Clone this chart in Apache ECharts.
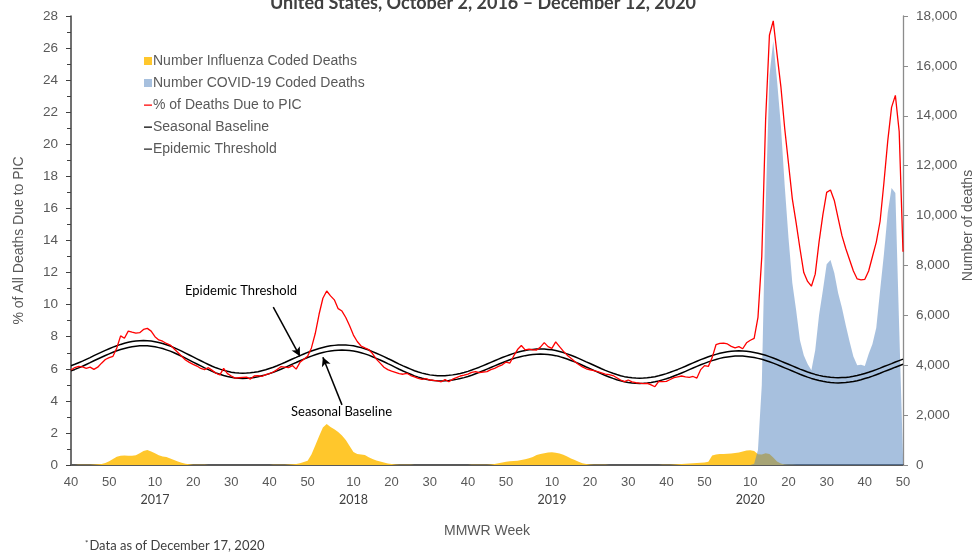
<!DOCTYPE html>
<html>
<head>
<meta charset="utf-8">
<script src="https://cdn.jsdelivr.net/npm/echarts@6.0.0/dist/echarts.min.js"></script>
<style>
  html, body { margin: 0; padding: 0; background: #fff; }
  #chart { width: 977px; height: 558px; }
</style>
</head>
<body>
<div id="chart"></div>
<script>
// MMWR weeks shown: 2016 wk40 .. 2020 wk50
const seasons = [[2016, 40, 52], [2017, 1, 52], [2018, 1, 52], [2019, 1, 52], [2020, 1, 50]]
const weeks = []
seasons.forEach(([yr, from, to]) => {
  for (let w = from; w <= to; w++) weeks.push(yr + '-' + w)
})

// % of all deaths due to pneumonia, influenza or COVID-19
const picPercent = [
  5.92, 6.08, 6.15, 6.12, 6.03, 6.10, 5.96, 6.10, 6.35, 6.58, 6.70, 6.78, 7.30, 8.05, 7.90, 8.35, 8.28, 8.22, 8.25, 8.45,
  8.52, 8.35, 8.00, 7.80, 7.72, 7.58, 7.48, 7.25, 7.02, 6.78, 6.55, 6.40, 6.28, 6.17, 6.02, 5.95, 6.07, 5.90, 5.72, 5.62, 6.03, 5.70, 5.55, 5.42, 5.44, 5.46,
  5.48, 5.36, 5.55, 5.58, 5.52, 5.64, 5.70, 5.80, 5.95, 6.13, 6.10, 6.07, 6.20, 5.98, 6.40, 6.60, 6.78, 7.30, 8.20, 9.40, 10.40, 10.85, 10.55, 10.30, 9.75, 9.60,
  9.20, 8.68, 8.10, 7.70, 7.42, 7.30, 7.20, 6.95, 6.60, 6.35, 6.10, 5.95, 5.85, 5.78, 5.70, 5.66, 5.72, 5.58, 5.50, 5.40, 5.34, 5.38, 5.30, 5.28, 5.24, 5.19,
  5.32, 5.19, 5.35, 5.45, 5.55, 5.60, 5.67, 5.78, 5.82, 5.76, 5.80, 5.82, 5.95, 6.03, 6.15, 6.25, 6.42, 6.36, 6.80, 7.20, 7.45, 7.18, 7.22, 7.18, 7.17, 7.35,
  7.63, 7.38, 7.27, 7.68, 7.38, 7.10, 6.85, 6.65, 6.46, 6.27, 6.12, 6.00, 5.94, 5.88, 5.82, 5.75, 5.67, 5.63, 5.58, 5.44, 5.30, 5.20, 5.30, 5.18, 5.13, 5.10,
  5.08, 5.09, 5.00, 4.88, 5.22, 5.20, 5.22, 5.33, 5.45, 5.50, 5.55, 5.50, 5.47, 5.52, 5.42, 5.95, 6.20, 6.15, 6.70, 7.50, 7.58, 7.60, 7.55, 7.40, 7.30, 7.38,
  7.25, 7.62, 7.78, 7.90, 9.20, 13.0, 21.5, 26.8, 27.7, 25.6, 23.6, 21.0, 18.8, 16.6, 15.1, 13.5, 12.0, 11.45, 11.15, 11.9, 13.9, 15.6, 17.0, 17.15, 16.5, 15.4,
  14.3, 13.5, 12.8, 12.1, 11.6, 11.55, 11.58, 12.1, 13.0, 13.9, 15.2, 17.6, 20.2, 22.3, 23.05, 20.8, 13.3
]

const seasonalBaseline = [
  5.87, 5.96, 6.06, 6.16, 6.27, 6.38, 6.50, 6.61, 6.72, 6.83, 6.93, 7.03, 7.12, 7.20, 7.27, 7.33, 7.38, 7.41, 7.43, 7.44,
  7.43, 7.41, 7.37, 7.32, 7.26, 7.18, 7.10, 7.00, 6.89, 6.78, 6.66, 6.54, 6.42, 6.30, 6.18, 6.06, 5.95, 5.84, 5.74, 5.66, 5.58, 5.52, 5.47, 5.43, 5.41, 5.40,
  5.41, 5.43, 5.46, 5.50, 5.56, 5.62, 5.70, 5.78, 5.87, 5.97, 6.07, 6.18, 6.29, 6.39, 6.50, 6.60, 6.70, 6.79, 6.87, 6.95, 7.01, 7.07, 7.11, 7.14, 7.16, 7.17,
  7.16, 7.14, 7.11, 7.06, 7.00, 6.93, 6.85, 6.75, 6.65, 6.55, 6.44, 6.32, 6.21, 6.09, 5.97, 5.86, 5.76, 5.66, 5.56, 5.48, 5.41, 5.35, 5.30, 5.27, 5.25, 5.24,
  5.25, 5.27, 5.30, 5.34, 5.39, 5.45, 5.52, 5.60, 5.69, 5.78, 5.88, 5.98, 6.08, 6.18, 6.28, 6.38, 6.47, 6.56, 6.64, 6.71, 6.77, 6.82, 6.86, 6.89, 6.91, 6.92,
  6.91, 6.89, 6.86, 6.82, 6.76, 6.69, 6.61, 6.52, 6.43, 6.33, 6.22, 6.11, 6.01, 5.90, 5.79, 5.68, 5.58, 5.49, 5.40, 5.32, 5.25, 5.19, 5.15, 5.12, 5.10, 5.09,
  5.10, 5.12, 5.15, 5.19, 5.24, 5.31, 5.38, 5.46, 5.55, 5.64, 5.74, 5.84, 5.95, 6.05, 6.15, 6.25, 6.34, 6.43, 6.51, 6.58, 6.65, 6.70, 6.74, 6.77, 6.79, 6.80,
  6.79, 6.77, 6.74, 6.70, 6.65, 6.59, 6.52, 6.44, 6.35, 6.26, 6.16, 6.06, 5.96, 5.86, 5.76, 5.66, 5.57, 5.48, 5.40, 5.33, 5.27, 5.22, 5.18, 5.15, 5.13, 5.12,
  5.13, 5.14, 5.17, 5.21, 5.26, 5.32, 5.39, 5.46, 5.54, 5.63, 5.72, 5.82, 5.91, 6.00, 6.10, 6.19, 6.28
]

const epidemicThreshold = [
  6.19, 6.28, 6.38, 6.48, 6.59, 6.70, 6.82, 6.93, 7.04, 7.15, 7.25, 7.35, 7.44, 7.52, 7.59, 7.65, 7.70, 7.73, 7.75, 7.76,
  7.75, 7.73, 7.69, 7.64, 7.58, 7.50, 7.42, 7.32, 7.21, 7.10, 6.98, 6.86, 6.74, 6.62, 6.50, 6.38, 6.27, 6.16, 6.06, 5.98, 5.90, 5.84, 5.79, 5.75, 5.73, 5.72,
  5.73, 5.75, 5.78, 5.82, 5.88, 5.94, 6.02, 6.10, 6.19, 6.29, 6.39, 6.50, 6.61, 6.71, 6.82, 6.92, 7.02, 7.11, 7.19, 7.27, 7.33, 7.39, 7.43, 7.46, 7.48, 7.49,
  7.48, 7.46, 7.43, 7.38, 7.32, 7.25, 7.17, 7.07, 6.97, 6.87, 6.76, 6.64, 6.53, 6.41, 6.29, 6.18, 6.08, 5.98, 5.88, 5.80, 5.73, 5.67, 5.62, 5.59, 5.57, 5.56,
  5.57, 5.59, 5.62, 5.66, 5.71, 5.77, 5.84, 5.92, 6.01, 6.10, 6.20, 6.30, 6.40, 6.50, 6.60, 6.70, 6.79, 6.88, 6.96, 7.03, 7.09, 7.14, 7.18, 7.21, 7.23, 7.24,
  7.23, 7.21, 7.18, 7.14, 7.08, 7.01, 6.93, 6.84, 6.75, 6.65, 6.54, 6.43, 6.33, 6.22, 6.11, 6.00, 5.90, 5.81, 5.72, 5.64, 5.57, 5.51, 5.47, 5.44, 5.42, 5.41,
  5.42, 5.44, 5.47, 5.51, 5.56, 5.63, 5.70, 5.78, 5.87, 5.96, 6.06, 6.16, 6.27, 6.37, 6.47, 6.57, 6.66, 6.75, 6.83, 6.90, 6.97, 7.02, 7.06, 7.09, 7.11, 7.12,
  7.11, 7.09, 7.06, 7.02, 6.97, 6.91, 6.84, 6.76, 6.67, 6.58, 6.48, 6.38, 6.28, 6.18, 6.08, 5.98, 5.89, 5.80, 5.72, 5.65, 5.59, 5.54, 5.50, 5.47, 5.45, 5.44,
  5.45, 5.46, 5.49, 5.53, 5.58, 5.64, 5.71, 5.78, 5.86, 5.95, 6.04, 6.14, 6.23, 6.32, 6.42, 6.51, 6.60
]

// number of influenza coded deaths per week
const fluDeaths = [
  5, 5, 8, 10, 12, 15, 20, 28, 40, 80, 150, 240, 330, 370, 380, 375, 370, 390, 470, 560,
  600, 540, 470, 390, 340, 320, 260, 200, 140, 90, 55, 30, 15, 10, 8, 6, 5, 5, 5, 4, 4, 4, 4, 4, 4, 4,
  4, 4, 4, 4, 4, 4, 5, 6, 8, 12, 15, 20, 30, 45, 70, 120, 175, 420, 780, 1150, 1500, 1640, 1520, 1430, 1320, 1180,
  1000, 760, 520, 440, 420, 400, 310, 240, 180, 140, 100, 65, 40, 25, 15, 10, 8, 6, 5, 5, 4, 4, 4, 4, 4, 4,
  4, 4, 4, 4, 4, 4, 5, 6, 8, 10, 12, 15, 25, 45, 70, 100, 130, 150, 160, 175, 200, 230, 270, 320, 400, 440,
  470, 500, 510, 490, 460, 410, 340, 260, 200, 130, 70, 40, 25, 15, 10, 8, 6, 5, 5, 4, 4, 4, 4, 4, 4, 4,
  4, 4, 4, 4, 5, 6, 10, 15, 20, 30, 40, 50, 60, 70, 80, 90, 100, 130, 380, 420, 440, 440, 450, 460, 480, 500,
  540, 580, 590, 560, 430, 420, 470, 440, 300, 140, 60, 25, 10, 6, 5, 4, 4, 4, 4, 4, 4, 4, 4, 4, 4, 4,
  4, 4, 4, 4, 4, 4, 4, 4, 4, 4, 4, 4, 4, 4, 4, 4, 4
]

// number of COVID-19 coded deaths, 2020 weeks 1..50
const covidDeaths2020 = [
  0, 0, 0, 0, 0, 0, 0, 0, 0, 0,
  50, 600, 3200, 10300, 15600, 17000, 15400, 13600, 11200, 9100,
  7300, 6200, 5000, 4400, 4050, 3800, 4600, 6000, 7000, 8050,
  8220, 7700, 6900, 6300, 5600, 4950, 4350, 4000, 4020, 3970,
  4450, 4850, 5500, 7000, 8450, 10100, 11100, 10900, 5500, 300
]
const covidDeaths = weeks.map(w => {
  const [yr, wk] = w.split('-').map(Number)
  return yr === 2020 ? covidDeaths2020[wk - 1] : null
})

const yearLabels = { 2017: '2017', 2018: '2018', 2019: '2019', 2020: '2020' }

const calibri = 'Lato, "DejaVu Sans", sans-serif'
const arial = '"Liberation Sans", Arial, sans-serif'
const greyText = '#595959'
const lineIcon = 'path://M0,0 L8,0 L8,0.01 L0,0.01 Z M0,3.4 L8,3.4 L8,4.8 L0,4.8 Z M0,8 L8,8 L8,8.01 L0,8.01 Z'

const chart = echarts.init(document.getElementById('chart'), null, { renderer: 'canvas' })

const option = {
  animation: false,
  backgroundColor: '#fff',
  title: {
    text: 'United States, October 2, 2016 \u2013 December 12, 2020',
    left: 265,
    top: -11,
    textStyle: { fontFamily: calibri, fontWeight: 'bold', fontSize: 18, color: '#404040' }
  },
  grid: { left: 71, right: 74, top: 16, bottom: 93, outerBoundsMode: 'none', containLabel: false },
  legend: {
    orient: 'vertical',
    left: 139,
    top: 49,
    itemWidth: 8,
    itemHeight: 8,
    itemGap: 8,
    itemStyle: { borderWidth: 0 },
    textStyle: { fontFamily: arial, fontSize: 14, color: greyText, padding: [0, 0, 0, -4] },
    data: [
      { name: 'Number Influenza Coded Deaths', icon: 'rect' },
      { name: 'Number COVID-19 Coded Deaths', icon: 'rect' },
      { name: '% of Deaths Due to PIC', icon: lineIcon },
      { name: 'Seasonal Baseline', icon: lineIcon },
      { name: 'Epidemic Threshold', icon: lineIcon }
    ]
  },
  xAxis: {
    type: 'category',
    data: weeks,
    boundaryGap: false,
    name: 'MMWR Week',
    nameLocation: 'middle',
    nameGap: 59,
    nameMoveOverlap: false,
    nameTextStyle: { fontFamily: arial, fontSize: 14, color: greyText },
    axisLine: { lineStyle: { color: '#595959', width: 2 } },
    axisTick: { show: false },
    axisLabel: {
      interval: (index, value) => Number(value.split('-')[1]) % 10 === 0,
      formatter: value => {
        const [yr, wk] = value.split('-')
        return wk === '10' ? wk + '\n{yr|' + yearLabels[yr] + '}' : wk
      },
      margin: 9,
      lineHeight: 17,
      fontFamily: arial,
      fontSize: 13,
      color: greyText,
      rich: {
        yr: { fontFamily: calibri, fontSize: 12.5, color: '#404040', lineHeight: 17 }
      }
    },
    splitLine: { show: false }
  },
  yAxis: [
    {
      type: 'value',
      position: 'left',
      min: 0,
      max: 28,
      interval: 2,
      name: '% of All Deaths Due to PIC',
      nameLocation: 'middle',
      nameGap: 45,
      nameTextStyle: { fontFamily: arial, fontSize: 14, color: greyText },
      axisLine: { show: true, lineStyle: { color: '#404040', width: 1.5 } },
      axisTick: { show: true, length: 5, lineStyle: { color: '#404040' } },
      minorTick: { show: true, splitNumber: 2, length: 4, lineStyle: { color: '#404040' } },
      axisLabel: { fontFamily: arial, fontSize: 13.5, color: greyText, margin: 13 },
      splitLine: { show: false }
    },
    {
      type: 'value',
      position: 'right',
      min: 0,
      max: 18000,
      interval: 2000,
      name: 'Number of deaths',
      nameLocation: 'middle',
      nameGap: 58,
      nameMoveOverlap: false,
      nameTextStyle: { fontFamily: arial, fontSize: 14, color: greyText, padding: [0, 0, 0, 30] },
      axisLine: { show: true, lineStyle: { color: '#8c8c8c', width: 1.3 } },
      axisTick: { show: true, length: 5, lineStyle: { color: '#8c8c8c' } },
      axisLabel: {
        fontFamily: arial,
        fontSize: 13.5,
        color: greyText,
        margin: 13,
        formatter: v => v.toLocaleString('en-US')
      },
      splitLine: { show: false }
    }
  ],
  series: [
    {
      name: 'Number Influenza Coded Deaths',
      type: 'line',
      yAxisIndex: 1,
      data: fluDeaths,
      showSymbol: false,
      color: '#FFC72C',
      lineStyle: { width: 0 },
      areaStyle: { color: '#FFC72C', opacity: 1 },
      z: 1
    },
    {
      name: 'Number COVID-19 Coded Deaths',
      type: 'line',
      yAxisIndex: 1,
      data: covidDeaths,
      showSymbol: false,
      color: 'rgba(79,129,189,0.5)',
      lineStyle: { width: 0 },
      areaStyle: { color: 'rgba(79,129,189,0.5)', opacity: 1 },
      z: 2
    },
    {
      name: 'Epidemic Threshold',
      type: 'line',
      data: epidemicThreshold,
      showSymbol: false,
      color: '#262626',
      lineStyle: { color: '#000', width: 1.5 },
      z: 3,
      markLine: {
        silent: true,
        symbol: ['none', 'arrow'],
        symbolSize: [7, 9],
        label: { show: false },
        lineStyle: { color: '#000', width: 1.5, type: 'solid' },
        data: [
          [{ coord: [weeks[53], 9.85] }, { coord: [weeks[60], 6.78] }],
          [{ coord: [weeks[71], 3.75] }, { coord: [weeks[66], 6.72] }]
        ]
      }
    },
    {
      name: 'Seasonal Baseline',
      type: 'line',
      data: seasonalBaseline,
      showSymbol: false,
      color: '#000',
      lineStyle: { color: '#000', width: 1.5 },
      z: 3
    },
    {
      name: '% of Deaths Due to PIC',
      type: 'line',
      data: picPercent,
      showSymbol: false,
      color: '#FF0000',
      lineStyle: { color: '#FF0000', width: 1.3 },
      z: 4
    }
  ],
  graphic: [
    {
      type: 'text',
      left: 185,
      top: 284,
      style: { text: 'Epidemic Threshold', font: '13px ' + calibri, fill: '#000' }
    },
    {
      type: 'text',
      left: 291,
      top: 405,
      style: { text: 'Seasonal Baseline', font: '13px ' + calibri, fill: '#000' }
    },
    {
      type: 'text',
      left: 85,
      top: 539,
      style: {
        text: '{s|*}Data as of December 17, 2020',
        font: '13px ' + calibri,
        fill: '#404040',
        rich: {
          s: { fontSize: 8, fontFamily: calibri, fill: '#404040', verticalAlign: 'top', padding: [0, 1, 6, 0] }
        }
      }
    }
  ]
}

chart.setOption(option)
</script>
</body>
</html>
